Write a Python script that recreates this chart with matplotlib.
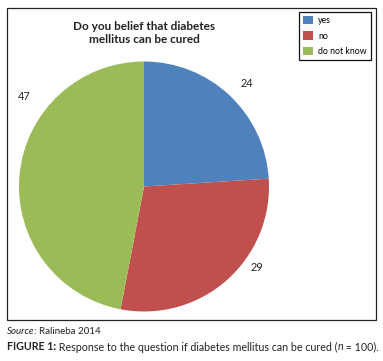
import matplotlib
matplotlib.use("Agg")
import numpy as np
import matplotlib.pyplot as plt
from matplotlib.patches import Rectangle, Patch

# chart data
categories = ["yes", "no", "do not know"]
counts = [24, 29, 47]
colors = ["#4F81BD", "#C0504D", "#9BBB59"]

title = "Do you belief that diabetes\nmellitus can be cured"

# data label placement as in the source (angle in degrees, distance in radii)
label_angles = [45, -35.5, 143]
label_dist = [1.16, 1.11, 1.20]

plt.rcParams["font.family"] = ["Lato", "DejaVu Sans"]

W, H = 383, 361
fig = plt.figure(figsize=(W / 100, H / 100), dpi=100)

fx = lambda px: px / W
fy = lambda py: 1 - py / H

# outer chart frame
frame = Rectangle((fx(7), fy(320)), fx(376) - fx(7), fy(8) - fy(320),
                  transform=fig.transFigure, fill=False, edgecolor="#222222", linewidth=0.9)
fig.patches.append(frame)

# pie axes, centre at (144, 186.5), radius 125 px
cx, cy, r = 144, 186.5, 125
ax = fig.add_axes([fx(cx - r), fy(cy + r), 2 * r / W, 2 * r / H])
ax.pie(counts, colors=colors, startangle=90, counterclock=False)
for c, a, d in zip(counts, label_angles, label_dist):
    t = np.deg2rad(a)
    ax.text(d * np.cos(t), d * np.sin(t), str(c), ha="center", va="center",
            fontsize=7.8, color="#222222")
ax.set_xlim(-1, 1)
ax.set_ylim(-1, 1)
ax.set_aspect("auto")
ax.axis("off")

fig.text(fx(144), fy(33), title, ha="center", va="center", fontsize=8.5,
         fontweight="bold", color="#222222", linespacing=1.25)

handles = [Patch(facecolor=c, edgecolor="none") for c in colors]
leg = fig.legend(handles, categories, loc="upper right",
                 bbox_to_anchor=(fx(371), fy(11.7)), fontsize=6.3,
                 frameon=True, fancybox=False, edgecolor="#111111", framealpha=1,
                 handlelength=1.15, handleheight=1.1, handletextpad=0.55,
                 labelspacing=0.7, borderpad=0.5, borderaxespad=0)
leg.get_frame().set_linewidth(0.9)


def run_text(x, y, pieces, size):
    # draw consecutive text pieces on one line, each with its own style
    renderer = fig.canvas.get_renderer()
    for s, kw in pieces:
        t = fig.text(x, y, s, ha="left", va="center", fontsize=size,
                     color="#222222", **kw)
        bb = t.get_window_extent(renderer)
        x += bb.width / W


run_text(fx(7), fy(331), [("Source", {"style": "italic"}),
                          (": Ralineba 2014", {})], 7.0)
run_text(fx(7), fy(347), [("FIGURE 1:", {"fontweight": "bold"}),
                          (" Response to the question if diabetes mellitus can be cured (", {}),
                          ("n", {"style": "italic"}),
                          (" = 100).", {})], 7.65)

fig.savefig("out.png", dpi=100)
